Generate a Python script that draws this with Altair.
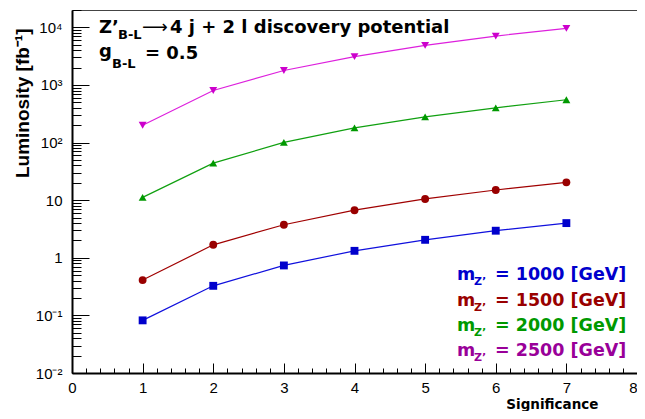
import altair as alt
import pandas as pd

# ---- data ----
significance = [1, 2, 3, 4, 5, 6, 7]
masses = [1000, 1500, 2000, 2500]
lum_1000 = [0.082, 0.326, 0.736, 1.32, 2.05, 2.95, 4.0]
lum_1500 = [0.41, 1.68, 3.75, 6.7, 10.5, 15.0, 20.4]
lum_2000 = [11.2, 44.0, 101.0, 180.0, 280.0, 401.0, 553.0]
lum_2500 = [200.0, 800.0, 1780.0, 3100.0, 4870.0, 7060.0, 9600.0]
series = [lum_1000, lum_1500, lum_2000, lum_2500]

line_colors = ["#1010dd", "#a00000", "#10a010", "#dd20dd"]
marker_colors = ["#0000cc", "#990000", "#009900", "#cc00cc"]
legend_colors = ["#0000cc", "#990000", "#009900", "#990099"]
shapes = ["square", "circle", "triangle-up", "triangle-down"]

x_labels = [0, 1, 2, 3, 4, 5, 6, 7, 8]
x_ticks = [round(i * 0.2, 1) for i in range(41)]
y_labels = [0.01, 0.1, 1, 10, 100, 1000, 10000]
y_label_text = ["10⁻²", "10⁻¹", "1", "10", "10²", "10³", "10⁴"]
y_ticks = [m * d for d in y_labels for m in range(1, 10) if m * d <= 20000]

title_parts = ["Z’", "B-L", "⟶", "4 j + 2 l discovery potential", "g", "B-L", "= 0.5"]

rows = []
for m, vals in zip(masses, series):
    for s, v in zip(significance, vals):
        rows.append({"mass": str(m), "sig": s, "lum": v})
df = pd.DataFrame(rows)

W, H = 565, 363
xscale = alt.Scale(domain=[0, 8], nice=False, zero=False)
yscale = alt.Scale(type="log", domain=[0.01, 20000], nice=False)
mass_dom = [str(m) for m in masses]

label_expr = "[" + ",".join("'%s'" % t for t in y_label_text) + "][round(log(datum.value)/LN10)+2]"

lines = alt.Chart(df).mark_line(strokeWidth=1.2).encode(
    x=alt.X("sig:Q", scale=xscale, axis=alt.Axis(
        values=x_labels, ticks=False, grid=False, domain=True, domainColor="black",
        domainWidth=2, labelFont="Liberation Sans", labelFontSize=15, labelColor="black",
        labelPadding=7, labelFlush=False,
        labelAlign={"condition": {"test": "datum.value == 8", "value": "right"}, "value": "center"},
        title="Significance", titleFont="DejaVu Sans",
        titleFontSize=13.5, titleFontWeight="bold", titleColor="black", titleAlign="right",
        titleAnchor="start", titleX=526, titleY=35.5, titleBaseline="alphabetic")),
    y=alt.Y("lum:Q", scale=yscale, axis=alt.Axis(
        values=y_labels, labelExpr=label_expr, ticks=False, grid=False, domain=True,
        domainColor="black", domainWidth=2, labelFont="Liberation Sans", labelFontSize=15,
        labelColor="black", labelPadding=10, labelBaseline="middle", labelFlush=False,
        title="Luminosity [fb⁻¹]", titleFont="Liberation Sans", titleFontSize=19,
        titleFontWeight="bold", titleColor="black", titleAngle=-90, titleAlign="right",
        titleBaseline="middle", titleX=-50, titleY=18)),
    color=alt.Color("mass:N", scale=alt.Scale(domain=mass_dom, range=line_colors), legend=None),
)

points = alt.Chart(df).mark_point(filled=True, size=62, opacity=1).encode(
    x=alt.X("sig:Q", scale=xscale, axis=None),
    y=alt.Y("lum:Q", scale=yscale, axis=None),
    color=alt.Color("mass:N", scale=alt.Scale(domain=mass_dom, range=marker_colors), legend=None),
    shape=alt.Shape("mass:N", scale=alt.Scale(domain=mass_dom, range=shapes), legend=None),
)

ymajor = "abs(log(datum.value)/LN10 - round(log(datum.value)/LN10)) < 0.000001"
xmajor = "abs(datum.value - round(datum.value)) < 0.000001"

ticks = alt.Chart(df).mark_point(opacity=0).encode(
    x=alt.X("sig:Q", scale=xscale, axis=alt.Axis(
        orient="top", offset=-H, values=x_ticks, labels=False, domain=False, grid=False,
        tickColor="black", tickWidth=1,
        tickSize={"condition": {"test": xmajor, "value": 10}, "value": 5}, title=None)),
    y=alt.Y("lum:Q", scale=yscale, axis=alt.Axis(
        orient="right", offset=-W, values=y_ticks, labels=False, domain=False, grid=False,
        tickColor="black", tickWidth=1,
        tickSize={"condition": {"test": ymajor, "value": 17}, "value": 9}, title=None)),
)


def txt(text, x, y, size, color="black", font="DejaVu Sans", weight="bold", align="left"):
    return alt.Chart(pd.DataFrame({"t": [text]})).mark_text(
        align=align, baseline="alphabetic", font=font, fontSize=size,
        fontWeight=weight, color=color
    ).encode(x=alt.value(x), y=alt.value(y), text="t:N")


texts = [
    txt(title_parts[0], 27, 22.5, 18),
    txt(title_parts[1], 46, 29, 13),
    txt(title_parts[2], 70, 22.5, 18, font="DejaVu Sans", weight="normal"),
    txt(title_parts[3], 98, 22.5, 18),
    txt(title_parts[4], 27, 47, 18),
    txt(title_parts[5], 40, 58, 13),
    txt(title_parts[6], 73, 49, 18),
]
leg_y = [270, 296, 321, 346]
for m, c, yy in zip(masses, legend_colors, leg_y):
    texts.append(txt("m", 385, yy, 17.5, color=c))
    texts.append(txt("Z’", 402, yy + 5, 11, color=c))
    texts.append(txt("= %d [GeV]" % m, 423, yy, 17.5, color=c))

chart = alt.layer(lines, points, ticks, *texts).resolve_scale(
    color="independent"
).resolve_axis(x="independent", y="independent").properties(
    width=W, height=H, autosize="none",
    padding={"left": 64, "top": 2, "right": 0, "bottom": 38},
).configure_view(stroke="#444", strokeWidth=1)

chart.save("out.html", embed_options={"renderer": "svg", "actions": False})
